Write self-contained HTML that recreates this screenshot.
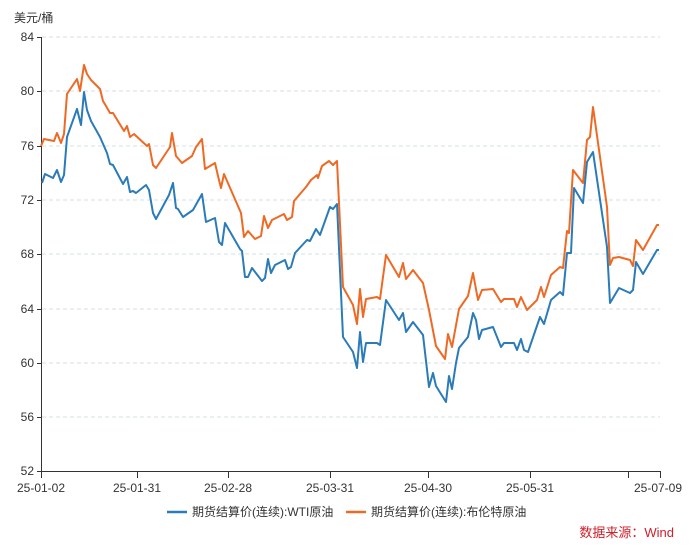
<!DOCTYPE html>
<html><head><meta charset="utf-8"><style>
body{margin:0;background:#fff;}
svg{display:block;font-family:"Liberation Sans","Noto Sans CJK SC",sans-serif;}
</style></head><body>
<svg width="700" height="551" viewBox="0 0 700 551" xmlns="http://www.w3.org/2000/svg">
<g stroke="#d5e0e6" stroke-dasharray="4,3" stroke-width="1">
<line x1="42" y1="37" x2="660" y2="37"/><line x1="42" y1="91" x2="660" y2="91"/>
<line x1="42" y1="146" x2="660" y2="146"/><line x1="42" y1="200" x2="660" y2="200"/>
<line x1="42" y1="254" x2="660" y2="254"/><line x1="42" y1="309" x2="660" y2="309"/>
<line x1="42" y1="363" x2="660" y2="363"/><line x1="42" y1="417" x2="660" y2="417"/>
</g>
<g stroke="#333" stroke-width="1" fill="none">
<line x1="41.5" y1="37" x2="41.5" y2="471"/>
<line x1="41" y1="471.5" x2="661" y2="471.5"/>
<line x1="37" y1="37.5" x2="41" y2="37.5"/><line x1="37" y1="91.5" x2="41" y2="91.5"/><line x1="37" y1="146.5" x2="41" y2="146.5"/><line x1="37" y1="200.5" x2="41" y2="200.5"/><line x1="37" y1="254.5" x2="41" y2="254.5"/><line x1="37" y1="309.5" x2="41" y2="309.5"/><line x1="37" y1="363.5" x2="41" y2="363.5"/><line x1="37" y1="417.5" x2="41" y2="417.5"/><line x1="37" y1="471.5" x2="41" y2="471.5"/>
<line x1="41.5" y1="471" x2="41.5" y2="478"/><line x1="137.5" y1="471" x2="137.5" y2="478"/><line x1="228.5" y1="471" x2="228.5" y2="478"/><line x1="330.5" y1="471" x2="330.5" y2="478"/><line x1="428.5" y1="471" x2="428.5" y2="478"/><line x1="530.5" y1="471" x2="530.5" y2="478"/><line x1="628.5" y1="471" x2="628.5" y2="478"/><line x1="660.5" y1="471" x2="660.5" y2="478"/>
</g>
<g font-size="12" fill="#333" text-anchor="end">
<text x="34" y="41">84</text><text x="34" y="95">80</text><text x="34" y="150">76</text><text x="34" y="204">72</text><text x="34" y="258">68</text><text x="34" y="313">64</text><text x="34" y="367">60</text><text x="34" y="421">56</text><text x="34" y="475">52</text>
</g>
<text x="14" y="22" font-size="12" fill="#333">美元/桶</text>
<g font-size="12" fill="#333" text-anchor="middle">
<text x="41" y="492">25-01-02</text><text x="137" y="492">25-01-31</text><text x="228" y="492">25-02-28</text><text x="330" y="492">25-03-31</text><text x="428" y="492">25-04-30</text><text x="530" y="492">25-05-31</text><text x="658" y="492">25-07-09</text>
</g>
<polyline fill="none" stroke="#ee6a24" stroke-width="2" stroke-linejoin="round" points="41,146 44,139 54,141 57,133 61,143 64,134 67,94 77,79 80,91 84,65 87,74 91,80 100,89 103,101 106,106 110,113 113,113 124,131 127,126 130,137 134,134 147,146 149,144 153,165 156,168 170,147 172,133 176,156 182,163 192,156 196,147 202,139 205,169 215,163 218,176 221,188 224,174 241,213 244,237 248,231 255,239 261,236 264,216 268,228 272,220 284,214 287,220 292,217 294,201 306,187 311,180 317,175 318,178 322,166 329,161 333,165 337,161 343,287 353,305 357,324 360,289 363,317 366,299 377,297 380,299 386,255 399,277 403,263 406,279 413,270 423,283 429,310 436,346 445,359 448,334 452,347 459,309 468,296 473,273 478,300 482,290 493,289 501,302 504,299 514,299 517,307 521,297 527,310 537,300 541,287 544,297 551,275 560,267 563,268 567,231 569,233 573,170 583,183 587,140 590,137 593,107 607,207 610,265 613,258 619,257 630,260 633,266 636,240 643,250 657,225 659,225"/>
<polyline fill="none" stroke="#2b7bb9" stroke-width="2" stroke-linejoin="round" points="42,183 45,174 53,178 57,170 61,182 64,175 67,137 77,109 81,125 84,92 87,110 91,121 100,137 107,153 110,164 113,165 123,184 127,177 130,192 133,191 136,193 146,185 149,190 153,213 156,219 169,195 173,183 176,208 178,209 183,217 193,210 202,194 206,222 215,218 219,242 222,245 225,223 240,249 242,251 245,277 248,277 252,268 262,281 265,278 268,259 271,273 275,265 285,260 288,269 291,267 295,253 307,240 310,241 316,229 320,235 330,207 333,209 337,204 343,337 353,352 357,368 360,332 363,362 366,343 377,343 380,345 386,300 399,320 403,313 406,332 413,322 423,335 429,387 433,373 436,386 446,402 449,376 452,389 456,363 459,348 468,337 473,313 476,320 479,339 482,330 493,327 501,347 504,343 514,343 517,350 521,339 524,350 528,352 540,317 544,324 551,300 560,292 563,295 567,253 571,253 574,188 583,203 587,162 593,152 607,247 610,303 619,288 630,293 633,290 636,262 643,274 657,250 659,250"/>
<line x1="167" y1="512" x2="187" y2="512" stroke="#2b7bb9" stroke-width="2.5"/>
<text x="192" y="516" font-size="12" fill="#333">期货结算价(连续):WTI原油</text>
<line x1="346" y1="512" x2="366" y2="512" stroke="#ee6a24" stroke-width="2.5"/>
<text x="371" y="516" font-size="12" fill="#333">期货结算价(连续):布伦特原油</text>
<text x="674" y="537" font-size="13" fill="#d0202a" text-anchor="end">数据来源：Wind</text>
</svg>
</body></html>
